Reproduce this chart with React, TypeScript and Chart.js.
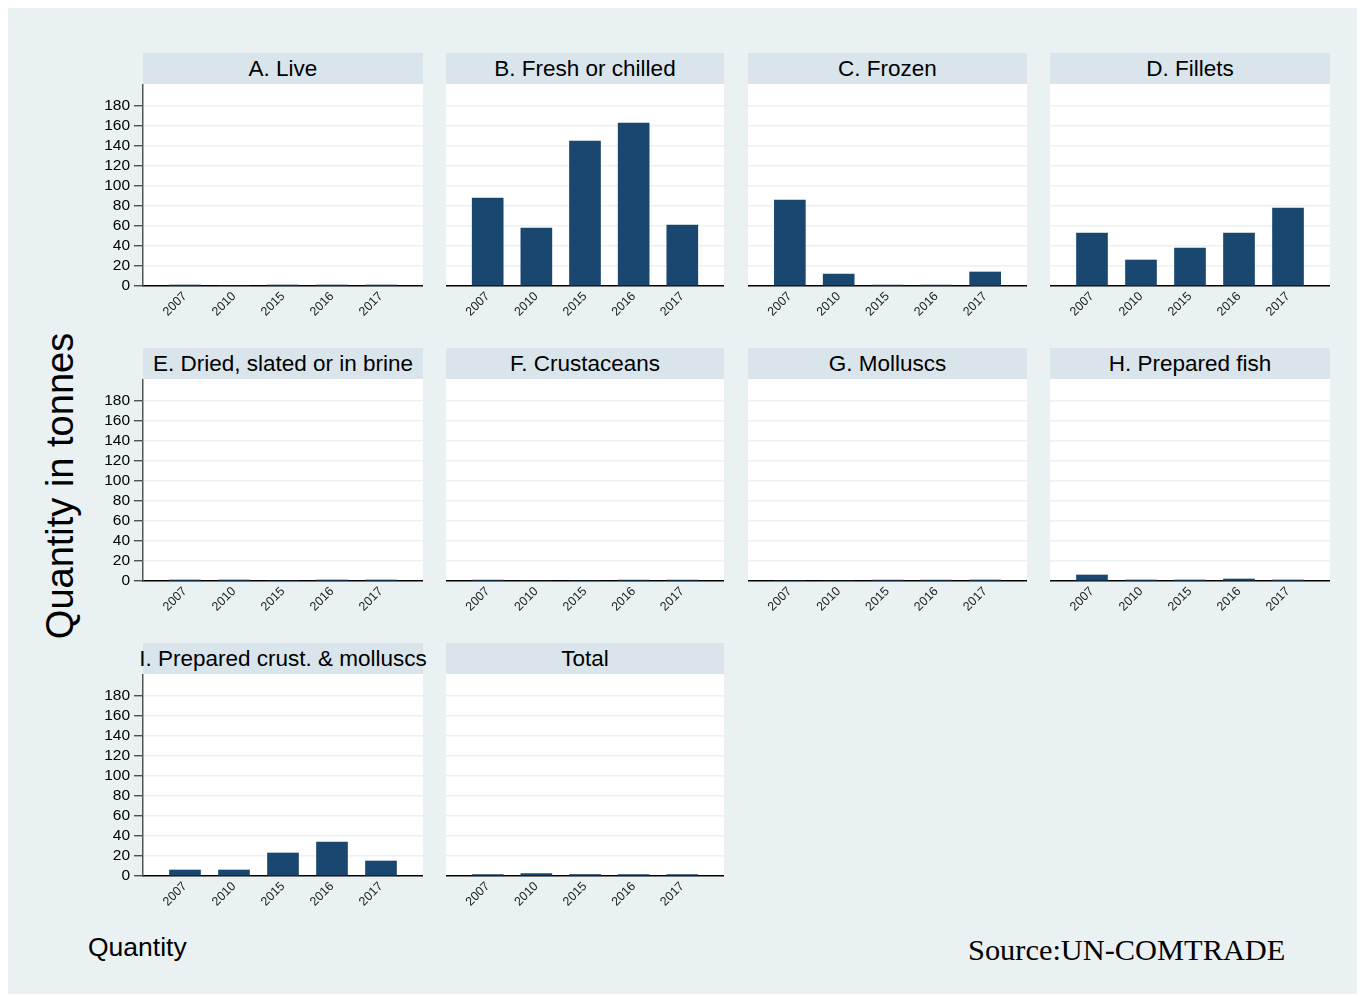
import React, { useEffect, useRef } from "react";
import { Chart, registerables } from "chart.js";

Chart.register(...registerables);

// ---------- data ----------
const years = ["2007", "2010", "2015", "2016", "2017"];
const live = [1, 0, 1, 1, 1];
const freshChilled = [88, 58, 145, 163, 61];
const frozen = [86, 12, 1, 1, 14];
const fillets = [53, 26, 38, 53, 78];
const driedSalted = [1, 1, 0, 1, 1];
const crustaceans = [1, 0, 0, 1, 1];
const molluscs = [0, 0, 1, 1, 1];
const preparedFish = [6, 1, 1, 2, 1];
const preparedCrustMolluscs = [6, 6, 23, 34, 15];
const total = [1.5, 2.4, 1.5, 1.5, 1.5];

const panelTitles = [
  "A. Live",
  "B. Fresh or chilled",
  "C. Frozen",
  "D. Fillets",
  "E. Dried, slated or in brine",
  "F. Crustaceans",
  "G. Molluscs",
  "H. Prepared fish",
  "I. Prepared crust. & molluscs",
  "Total",
];
const panelValues = [
  live,
  freshChilled,
  frozen,
  fillets,
  driedSalted,
  crustaceans,
  molluscs,
  preparedFish,
  preparedCrustMolluscs,
  total,
];
const yTicks = [0, 20, 40, 60, 80, 100, 120, 140, 160, 180];
const yAxisMax = 202;

// ---------- style / layout ----------
const FONT = "'Liberation Sans', Arial, Helvetica, sans-serif";
const BG = "#eaf1f3";
const HEADER_BG = "#d9e5eb";
const BAR = "#1a476f";
const GRID = "#eaf2f3";
const colLeft = [143, 446, 748, 1050];
const colWidth = [280, 278, 279, 280];
const rowTop = [84, 379, 674];
const PLOT_H = 202;
const HEADER_H = 31;
const Y_AXIS_W = 50;
const X_AXIS_H = 42;

Chart.defaults.font.family = FONT;

const plotBg = {
  id: "plotBg",
  beforeDraw(chart: any) {
    const { ctx, chartArea } = chart;
    ctx.save();
    ctx.fillStyle = "#ffffff";
    ctx.fillRect(chartArea.left, chartArea.top, chartArea.right - chartArea.left, chartArea.bottom - chartArea.top);
    ctx.restore();
  },
};

function Panel(props: { title: string; values: number[]; col: number; row: number }) {
  const { title, values, col, row } = props;
  const ref = useRef<HTMLCanvasElement>(null);
  const showY = col === 0;
  const yw = showY ? Y_AXIS_W : 0;
  const left = colLeft[col];
  const width = colWidth[col];
  const top = rowTop[row];

  useEffect(() => {
    const chart = new Chart(ref.current as HTMLCanvasElement, {
      type: "bar",
      data: {
        datasets: [
          {
            data: values.map((v, i) => ({ x: i, y: v })),
            backgroundColor: BAR,
            borderWidth: 0,
            barThickness: 31,
          } as any,
        ],
      },
      options: {
        animation: false,
        responsive: false,
        events: [],
        layout: { padding: 0 },
        plugins: { legend: { display: false }, tooltip: { enabled: false }, title: { display: false } },
        scales: {
          x: {
            type: "linear",
            offset: false,
            min: -0.857,
            max: 4.857,
            afterBuildTicks: (s: any) => {
              s.ticks = years.map((_, i) => ({ value: i }));
            },
            ticks: {
              autoSkip: false,
              maxRotation: 45,
              minRotation: 45,
              padding: 3,
              color: "#222",
              font: { size: 12.5, family: FONT },
              callback: (_v: any, i: number) => years[i],
            },
            grid: { display: false, drawTicks: false, offset: false },
            border: { display: true, color: "#000", width: 1.5 },
            afterFit: (s: any) => {
              s.height = X_AXIS_H;
              s.paddingLeft = 0;
              s.paddingRight = 0;
            },
          },
          y: {
            type: "linear",
            min: 0,
            max: yAxisMax,
            afterBuildTicks: (s: any) => {
              s.ticks = yTicks.map((v) => ({ value: v }));
            },
            ticks: {
              display: showY,
              padding: 4,
              color: "#000",
              font: { size: 15.5, family: FONT },
            },
            grid: {
              color: GRID,
              lineWidth: 1.5,
              drawTicks: showY,
              tickLength: 9,
              tickColor: "#333",
              tickWidth: 1.2,
            },
            border: { display: showY, color: "#555", width: 1.5 },
            afterFit: (s: any) => {
              s.width = yw;
              s.paddingTop = 0;
              s.paddingBottom = 0;
            },
          },
        },
      } as any,
      plugins: [plotBg],
    });
    return () => chart.destroy();
  }, []);

  return (
    <>
      <div
        style={{
          position: "absolute",
          left,
          top: top - HEADER_H,
          width,
          height: HEADER_H,
          background: HEADER_BG,
          fontFamily: FONT,
          fontSize: 22.5,
          lineHeight: HEADER_H + "px",
          textAlign: "center",
          whiteSpace: "nowrap",
          color: "#000",
          display: "flex",
          justifyContent: "center",
        }}
      >
        <span>{title}</span>
      </div>
      <canvas
        ref={ref}
        width={width + yw}
        height={PLOT_H + X_AXIS_H}
        style={{ position: "absolute", left: left - yw, top }}
      />
    </>
  );
}

export default function App() {
  return (
    <div style={{ position: "fixed", left: 0, top: 0, width: 1365, height: 996, overflow: "hidden" }}>
      <div style={{ position: "absolute", left: 8, top: 8, width: 1349, height: 986, background: BG }} />
      <div
        style={{
          position: "absolute",
          left: 60,
          top: 486,
          transform: "translate(-50%, -50%) rotate(-90deg)",
          fontFamily: FONT,
          fontSize: 38,
          whiteSpace: "nowrap",
          color: "#000",
        }}
      >
        Quantity in tonnes
      </div>
      {panelTitles.map((t, i) => (
        <Panel key={i} title={t} values={panelValues[i]} col={i % 4} row={Math.floor(i / 4)} />
      ))}
      <div
        style={{
          position: "absolute",
          left: 88,
          top: 932,
          fontFamily: FONT,
          fontSize: 26.5,
          color: "#000",
          whiteSpace: "nowrap",
        }}
      >
        Quantity
      </div>
      <div
        style={{
          position: "absolute",
          left: 968,
          top: 933,
          fontFamily: "'Liberation Serif', 'DejaVu Serif', serif",
          fontSize: 30.4,
          color: "#000",
          whiteSpace: "nowrap",
        }}
      >
        Source:UN-COMTRADE
      </div>
    </div>
  );
}
